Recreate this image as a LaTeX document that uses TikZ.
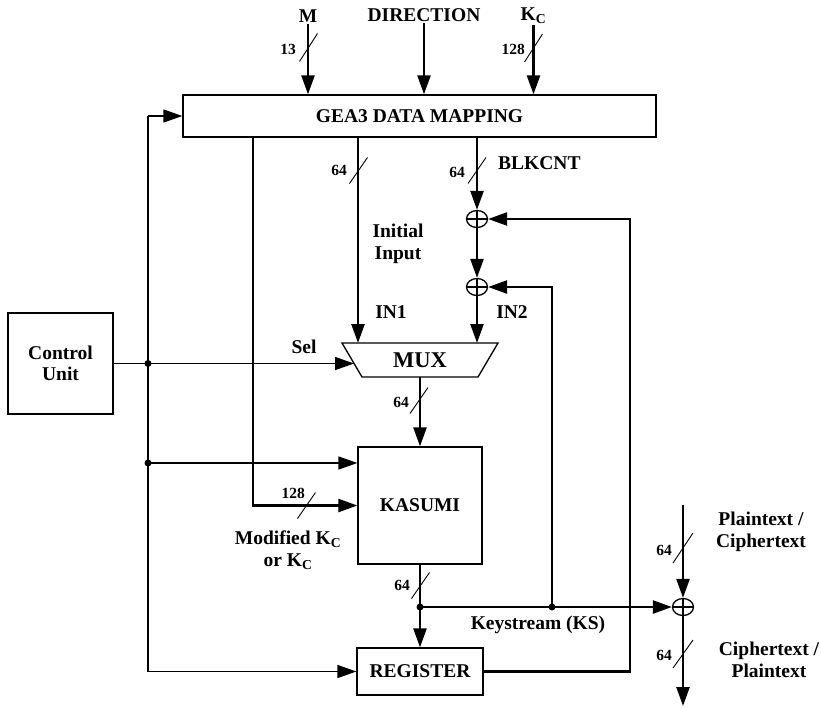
\documentclass[tikz,border=0pt]{standalone}
\usepackage{fontspec}
\setmainfont{Liberation Serif}
\usetikzlibrary{arrows.meta,shapes.geometric}

\tikzset{
  lbl/.style={font=\fontsize{19.5}{21.5}\selectfont\bfseries, inner sep=1pt, align=center},
  num/.style={font=\fontsize{15.5}{17}\selectfont\bfseries, inner sep=1pt},
  blk/.style={draw, line width=1.3pt, font=\fontsize{19.5}{21.5}\selectfont\bfseries, align=center, inner sep=0pt},
  data/.style={line width=2.4pt},
  ctl/.style={line width=1.5pt},
  slash/.style={line width=0.9pt},
  dot/.style={circle, fill, inner sep=0pt, minimum size=7pt},
  xor/.style={draw, ellipse, line width=1.3pt, minimum width=21pt, minimum height=17pt, inner sep=0pt,
    path picture={\draw[line width=1.1pt] (path picture bounding box.north) -- (path picture bounding box.south)
      (path picture bounding box.west) -- (path picture bounding box.east);}}
}

\begin{document}
\begin{tikzpicture}[x=1pt,y=-1pt,>={Triangle[length=19pt,width=13pt]}]
\useasboundingbox (0,0) rectangle (821,707);

% blocks
\node[blk, minimum width=473pt, minimum height=42pt] (map) at (419.5,116) {GEA3 DATA MAPPING};
\node[blk, minimum width=105pt, minimum height=101pt] (ctrl) at (60.5,363.5) {Control\\Unit};
\node[blk, minimum width=124pt, minimum height=117pt] (kasumi) at (420,505.5) {KASUMI};
\node[blk, minimum width=126pt, minimum height=47pt] (reg) at (420,671.5) {REGISTER};
\node[font=\fontsize{22.5}{24}\selectfont\bfseries] (mux) at (420,360) {MUX};
\draw[line width=1.3pt] (342,343) -- (498,343) -- (478,377) -- (362,377) -- cycle;

\node[xor] (x1) at (477,219) {};
\node[xor] (x2) at (477,287) {};
\node[xor] (x3) at (683,607) {};

% connection points
\coordinate (in1) at (358,343);
\coordinate (in2) at (477,343);
\coordinate (sel) at (354,363.5);
\coordinate (muxout) at (420,377);
\coordinate (busTop) at (148,116);
\coordinate (busBot) at (148,671.5);
\coordinate (busK) at (148,463);
\coordinate (keyTurn) at (253,505.5);
\coordinate (ks) at (420,607);
\coordinate (ksTap) at (552,607);
\coordinate (fbCorner) at (630,671.5);
\coordinate (ptIn) at (683,505);
\coordinate (ctOut) at (683,706);

% inputs
\node[lbl] (lm) at (308,16) {M};
\node[lbl] (ldir) at (424,15) {DIRECTION};
\node[lbl] (lkc) at (533.5,16) {K\textsubscript{C}};
\draw[data,->] (lm.south) -- (lm.south |- map.north);
\draw[data,->] (ldir.south) -- (ldir.south |- map.north);
\draw[data,->] (lkc.south) -- (lkc.south |- map.north);

% control bus
\draw[ctl,->] (busTop) -- (map.west);
\draw[ctl] (busTop) -- (busBot);
\draw[ctl,->] (busBot) -- (reg.west);
\draw[ctl,->] (ctrl.east) -- (sel);
\draw[ctl,->] (busK) -- (busK -| kasumi.west);
\node[dot] (d1) at (ctrl.east -| busTop) {};
\node[dot] (d2) at (busK) {};

% data paths
\draw[data,->] (map.south -| in1) -- (in1);
\draw[data,->] (map.south -| x1) -- (x1.north);
\draw[data,->] (x1.south) -- (x2.north);
\draw[data,->] (x2.south) -- (in2);
\draw[data,->] (map.south -| keyTurn) -- (keyTurn) -- (kasumi.west);
\draw[data,->] (muxout) -- (kasumi.north);
\draw[data,->] (kasumi.south) -- (reg.north);
\draw[data,->] (ks) -- (x3.west);
\draw[data,->] (ksTap) |- (x2.east);
\draw[data,->] (reg.east) -- (fbCorner) |- (x1.east);
\draw[data,->] (ptIn) -- (x3.north);
\draw[data,->] (x3.south) -- (ctOut);
\node[dot] (d3) at (ks) {};
\node[dot] (d4) at (ksTap) {};

% bus widths
\draw[slash] (308.5,47.5) +(-9,14) -- +(9,-14);
\node[num, anchor=east] (w13) at (297,49) {13};
\draw[slash] (533.5,48) +(-9,14) -- +(9,-14);
\node[num, anchor=east] (w128a) at (526,49) {128};
\draw[slash] (358.5,170.5) +(-9,13) -- +(9,-13);
\node[num, anchor=east] (w64a) at (348,170) {64};
\draw[slash] (477,170.5) +(-9,13) -- +(9,-13);
\node[num, anchor=east] (w64b) at (466,172) {64};
\draw[slash] (419,400.5) +(-9,13) -- +(9,-13);
\node[num, anchor=east] (w64c) at (410,402) {64};
\draw[slash] (306.5,505.5) +(-9,13) -- +(9,-13);
\node[num, anchor=east] (w128b) at (306,493) {128};
\draw[slash] (420.5,585.5) +(-9,13) -- +(9,-13);
\node[num, anchor=east] (w64d) at (411,585) {64};
\draw[slash] (683,548) +(-10,15) -- +(10,-15);
\node[num, anchor=east] (w64e) at (673,550) {64};
\draw[slash] (683,654) +(-10,14) -- +(10,-14);
\node[num, anchor=east] (w64f) at (673,655) {64};

% labels
\node[lbl, anchor=west] (lblk) at (497,163) {BLKCNT};
\node[lbl] (linit) at (398,244) {Initial\\Input};
\node[lbl] (lin1) at (391,312) {IN1};
\node[lbl] (lin2) at (512,312) {IN2};
\node[lbl] (lsel) at (304,347) {Sel};
\node[lbl] (lmod) at (288,550) {Modified K\textsubscript{C}\\or K\textsubscript{C}};
\node[lbl] (lks) at (538,625) {Keystream (KS)};
\node[lbl] (lpt) at (761,532) {Plaintext /\\Ciphertext};
\node[lbl] (lct) at (769,660) {Ciphertext /\\Plaintext};
\end{tikzpicture}
\end{document}
